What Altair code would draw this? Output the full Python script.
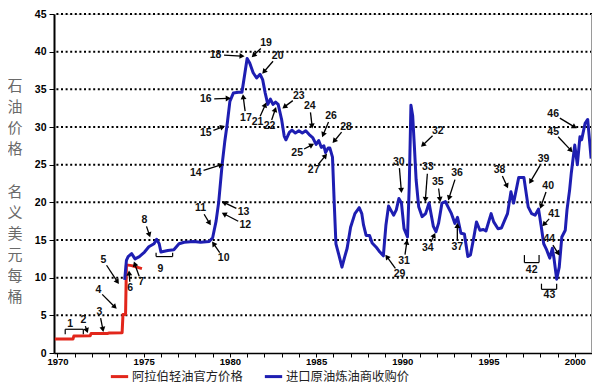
import math
import altair as alt
import pandas as pd

# ---------------- data ----------------
red_year = [1969.85, 1970.9, 1970.95, 1971.9, 1971.95, 1972.9, 1973.0, 1973.75, 1973.8, 1973.95,
            1974.0, 1974.3, 1974.6, 1974.9]
red_val = [1.85, 1.85, 2.25, 2.3, 2.6, 2.6, 2.65, 2.7, 5.1, 5.1,
           11.7, 11.6, 11.4, 11.2]

blue_year = [1973.9, 1974.0, 1974.1, 1974.3, 1974.5, 1974.75, 1975.05, 1975.3, 1975.6, 1975.75,
             1975.9, 1976.0, 1976.4, 1976.75, 1977.05, 1977.35, 1977.9, 1978.3, 1978.8, 1979.0,
             1979.2, 1979.35, 1979.55, 1979.7, 1979.85, 1980.0, 1980.2, 1980.5, 1980.7, 1981.0,
             1981.15, 1981.35, 1981.55, 1981.75, 1981.9, 1982.05, 1982.2, 1982.35, 1982.5, 1982.65,
             1982.8, 1983.0, 1983.15, 1983.25, 1983.45, 1983.6, 1983.8, 1984.0, 1984.2, 1984.4,
             1984.6, 1984.8, 1985.0, 1985.15, 1985.3, 1985.45, 1985.55, 1985.7, 1985.8, 1985.95,
             1986.05, 1986.15, 1986.3, 1986.5, 1986.65, 1986.8, 1987.0, 1987.25, 1987.5, 1987.65,
             1987.75, 1987.9, 1988.1, 1988.25, 1988.5, 1988.7, 1988.9, 1989.05, 1989.2, 1989.35,
             1989.5, 1989.65, 1989.8, 1989.95, 1990.1, 1990.3, 1990.4, 1990.5, 1990.6, 1990.7,
             1990.8, 1990.95, 1991.15, 1991.35, 1991.55, 1991.8, 1991.95, 1992.1, 1992.3, 1992.5,
             1992.65, 1992.85, 1993.05, 1993.2, 1993.4, 1993.6, 1993.8, 1993.95, 1994.15, 1994.3,
             1994.5, 1994.7, 1994.85, 1995.15, 1995.3, 1995.55, 1995.75, 1995.95, 1996.1, 1996.3,
             1996.45, 1996.75, 1997.05, 1997.3, 1997.5, 1997.7, 1997.9, 1998.05, 1998.2, 1998.35,
             1998.55, 1998.7, 1998.8, 1998.95, 1999.1, 1999.25, 1999.45, 1999.55, 1999.7, 1999.8,
             2000.0, 2000.15, 2000.3, 2000.4, 2000.6, 2000.75, 2000.95]
blue_val = [9.7, 12.3, 12.8, 13.2, 12.5, 12.8, 13.4, 14.1, 14.5, 15.1,
            14.5, 13.4, 13.6, 13.7, 14.5, 14.7, 14.8, 14.7, 14.8, 15.3,
            17.5, 20.0, 25.0, 28.0, 30.5, 33.4, 34.5, 34.6, 34.6, 39.1,
            38.5, 37.2, 36.5, 37.0, 36.3, 34.5, 33.0, 33.7, 33.0, 33.3,
            33.0, 31.0, 28.8, 28.3, 29.3, 29.6, 29.2, 29.5, 29.2, 29.5,
            29.0, 28.6, 27.7, 28.2, 27.3, 27.5, 26.6, 27.2, 27.2, 26.0,
            20.0, 14.5, 13.2, 11.4, 12.7, 13.9, 16.7, 18.5, 19.3, 18.5,
            17.0, 15.6, 15.6, 14.6, 14.0, 13.4, 12.9, 17.0, 19.5, 18.9,
            18.3, 19.0, 20.5, 19.9, 16.5, 15.4, 22.0, 32.9, 31.5, 27.4,
            23.0, 19.4, 18.1, 18.5, 19.9, 16.8, 16.1, 17.2, 19.9, 20.1,
            19.4, 18.5, 17.2, 18.0, 15.9, 15.8, 12.8, 13.0, 15.4, 17.4,
            16.3, 16.4, 16.2, 18.5, 17.4, 16.5, 16.6, 17.7, 18.5, 21.4,
            19.9, 23.3, 23.3, 19.4, 18.5, 18.3, 19.1, 16.9, 14.5, 13.8,
            12.6, 13.9, 12.5, 9.8, 11.4, 15.4, 16.3, 19.0, 21.6, 23.9,
            27.6, 25.0, 28.7, 28.3, 30.5, 31.0, 25.8]

series_names = ["阿拉伯轻油官方价格", "进口原油炼油商收购价"]
series_colors = ["#e2261b", "#1e1eb2"]

# numbered arrows: label position and arrow tip (year, price)
arrow_num = ["2", "3", "4", "5", "6", "7", "8", "10", "11", "12", "13", "14", "15", "16", "17",
             "18", "19", "20", "21", "22", "23", "24", "25", "26", "27", "28", "29", "30", "31",
             "32", "33", "34", "35", "36", "37", "38", "39", "40", "41", "44", "45", "46"]
arrow_lx = [1971.5, 1972.43, 1972.37, 1972.66, 1974.22, 1974.86, 1975.05, 1979.64, 1978.3, 1980.89,
            1980.79, 1978.02, 1978.6, 1978.6, 1980.93, 1979.17, 1982.1, 1982.77, 1981.6, 1982.3,
            1984.0, 1984.63, 1983.9, 1985.87, 1984.86, 1986.74, 1989.84, 1989.8, 1990.1, 1992.06,
            1991.48, 1991.48, 1992.06, 1993.17, 1993.19, 1995.64, 1998.19, 1998.46, 1998.8, 1998.52,
            1998.75, 1998.75]
arrow_ly = [4.35, 5.45, 8.3, 12.3, 8.6, 9.4, 17.6, 12.55, 19.2, 17.0,
            18.75, 23.9, 29.2, 33.7, 31.25, 39.6, 41.1, 39.45, 30.6, 30.1,
            34.1, 32.8, 26.6, 31.5, 24.3, 30.05, 10.5, 25.4, 12.2, 29.5,
            24.65, 13.9, 22.7, 23.85, 14.1, 24.3, 25.7, 22.2, 18.5, 15.1,
            29.4, 31.7]
arrow_tx = [1971.75, 1972.66, 1973.42, 1973.55, 1974.15, 1974.44, 1975.37, 1978.98, 1978.88, 1979.55,
            1979.55, 1979.6, 1979.7, 1980.03, 1980.76, 1980.83, 1981.28, 1981.89, 1982.1, 1982.67,
            1983.06, 1984.78, 1984.86, 1985.36, 1985.62, 1985.97, 1989.03, 1989.95, 1990.28, 1991.1,
            1991.33, 1991.9, 1992.2, 1992.67, 1993.19, 1996.12, 1997.37, 1998.0, 1998.13, 1999.1,
            1999.86, 2000.1]
arrow_ty = [2.7, 2.85, 5.9, 9.2, 10.9, 12.1, 15.4, 14.75, 17.0, 18.6,
            20.1, 25.05, 30.1, 33.8, 34.3, 39.4, 39.3, 37.1, 33.2, 32.6,
            32.5, 29.85, 27.75, 28.7, 26.4, 27.9, 13.0, 21.3, 15.0, 27.4,
            20.1, 15.9, 20.1, 20.3, 17.2, 21.9, 22.5, 19.2, 16.85, 13.0,
            26.7, 29.85]

# numbered brackets: span, line level, tick end level, label position
br_num = ["1", "9", "42", "43"]
br_x1 = [1970.45, 1975.72, 1997.08, 1998.07]
br_x2 = [1971.5, 1976.68, 1997.93, 1998.95]
br_line = [3.15, 12.8, 12.0, 8.45]
br_tick = [2.5, 13.3, 13.0, 9.2]
br_lx = [1970.74, 1975.97, 1997.5, 1998.53]
br_ly = [3.8, 11.2, 11.0, 7.7]

x_ticks = list(range(1970, 2002))
y_ticks = [0, 5, 10, 15, 20, 25, 30, 35, 40, 45]
y_grid = [5, 10, 15, 20, 25, 30, 35, 40, 45]
y_title_top = ["石", "油", "价", "格"]
y_title_bottom = ["名", "义", "美", "元", "每", "桶"]

# ---------------- layout ----------------
XMIN, XMAX = 1969.8, 2001.0
YMIN, YMAX = 0, 45
W, H = 538, 339
PX = W / (XMAX - XMIN)
PY = H / (YMAX - YMIN)

xs = alt.Scale(domain=[XMIN, XMAX], nice=False, zero=False)
ys = alt.Scale(domain=[YMIN, YMAX], nice=False)

# ---------------- tables ----------------
lines = pd.DataFrame({
    "year": red_year + blue_year,
    "price": red_val + blue_val,
    "series": [series_names[0]] * len(red_year) + [series_names[1]] * len(blue_year),
    "order": list(range(len(red_year))) + list(range(len(blue_year))),
})

shafts, heads = [], []
for n, lx, ly, tx, ty in zip(arrow_num, arrow_lx, arrow_ly, arrow_tx, arrow_ty):
    dxp = (tx - lx) * PX
    dyp = -(ty - ly) * PY
    d = math.hypot(dxp, dyp)
    ux, uy = dxp / d, dyp / d
    hw = 3.5 * len(n)
    off = 1.0 / math.sqrt((ux / hw) ** 2 + (uy / 5.0) ** 2) + 1.5
    sx = lx + ux * off / PX
    sy = ly - uy * off / PY
    hx = tx - ux * 3.0 / PX
    hy = ty + uy * 3.0 / PY
    ang = math.degrees(math.atan2(ux, -uy)) % 360
    shafts.append({"x": sx, "y": sy, "x2": hx, "y2": hy})
    heads.append({"x": hx, "y": hy, "angle": ang})
shaft_df = pd.DataFrame(shafts)
head_df = pd.DataFrame(heads)

seg = []
for x1, x2, yl, yt in zip(br_x1, br_x2, br_line, br_tick):
    seg.append({"x": x1, "y": yl, "x2": x2, "y2": yl})
    seg.append({"x": x1, "y": yl, "x2": x1, "y2": yt})
    seg.append({"x": x2, "y": yl, "x2": x2, "y2": yt})
br_df = pd.DataFrame(seg)

lab_df = pd.DataFrame({
    "num": arrow_num + br_num,
    "x": arrow_lx + br_lx,
    "y": arrow_ly + br_ly,
})

grid_df = pd.DataFrame({"v": y_grid})

# ---------------- chart ----------------
base_font = "Liberation Sans"

grid = alt.Chart(grid_df).mark_rule(color="black", strokeWidth=2, strokeDash=[2, 2.6]).encode(
    y=alt.Y("v:Q", scale=ys, axis=None))

line_chart = alt.Chart(lines).mark_line(strokeWidth=3, strokeJoin="round").encode(
    x=alt.X("year:Q", scale=xs,
            axis=alt.Axis(title=None, values=x_ticks, format="d",
                          labelExpr="datum.value % 5 == 0 ? datum.label : ''",
                          grid=False, tickSize=4, tickColor="black", tickWidth=1,
                          domainColor="black", domainWidth=1.5,
                          labelFont=base_font, labelFontWeight="bold", labelFontSize=9.5,
                          labelColor="black", labelPadding=-1, labelFlush=False,
                          labelOverlap=False)),
    y=alt.Y("price:Q", scale=ys,
            axis=alt.Axis(values=y_ticks, title=None, grid=False,
                          tickSize=5, tickColor="black", domainColor="black", domainWidth=2,
                          labelFont=base_font, labelFontWeight="bold", labelFontSize=10.5,
                          labelColor="black", labelPadding=3, labelOverlap=False)),
    color=alt.Color("series:N",
                    scale=alt.Scale(domain=series_names, range=series_colors),
                    legend=alt.Legend(title=None, orient="none", legendX=55, legendY=352,
                                      direction="horizontal", symbolType="stroke",
                                      symbolStrokeWidth=3, symbolSize=300,
                                      labelFont="Noto Sans CJK SC", labelFontSize=12.3,
                                      labelColor="#222", columnPadding=15,
                                      symbolOffset=0, labelOffset=2)),
    detail="series:N",
    order="order:Q",
)

xn = alt.X("x:Q", scale=xs, axis=None)
yn = alt.Y("y:Q", scale=ys, axis=None)

shaft_chart = alt.Chart(shaft_df).mark_rule(color="black", strokeWidth=1.3).encode(
    x=xn, y=yn, x2="x2:Q", y2="y2:Q")

head_chart = alt.Chart(head_df).mark_point(shape="triangle", filled=True, color="black",
                                           size=34, opacity=1).encode(
    x=xn, y=yn, angle=alt.Angle("angle:Q", scale=None))

br_chart = alt.Chart(br_df).mark_rule(color="black", strokeWidth=1.2).encode(
    x=xn, y=yn, x2="x2:Q", y2="y2:Q")

label_chart = alt.Chart(lab_df).mark_text(font=base_font, fontWeight="bold", fontSize=10.5,
                                          color="#111", align="center", baseline="middle").encode(
    x=xn, y=yn, text="num:N")

one = pd.DataFrame({"k": [0]})
border = alt.Chart(one).mark_rule(color="#9a9a9a", strokeWidth=1).encode(
    x=alt.value(W - 0.5), y=alt.value(0), y2=alt.value(H))

title_style = dict(font="Noto Sans CJK SC", fontSize=15, color="#6a6a6a",
                   lineHeight=21, align="center", baseline="top")
title_top = alt.Chart(one).mark_text(**title_style).encode(
    x=alt.value(-39), y=alt.value(65), text=alt.value(y_title_top))
title_bottom = alt.Chart(one).mark_text(**title_style).encode(
    x=alt.value(-39), y=alt.value(171), text=alt.value(y_title_bottom))

chart = alt.layer(grid, line_chart, shaft_chart, head_chart, br_chart, label_chart, border,
                  title_top, title_bottom).properties(
    width=W, height=H,
    autosize=alt.AutoSizeParams(type="none"),
    padding={"left": 46, "top": 6, "right": 0, "bottom": 32},
).resolve_axis(x="independent", y="independent").configure_view(stroke=None).configure(background="white")

chart.save("out.html", embed_options={"renderer": "svg", "actions": False})
